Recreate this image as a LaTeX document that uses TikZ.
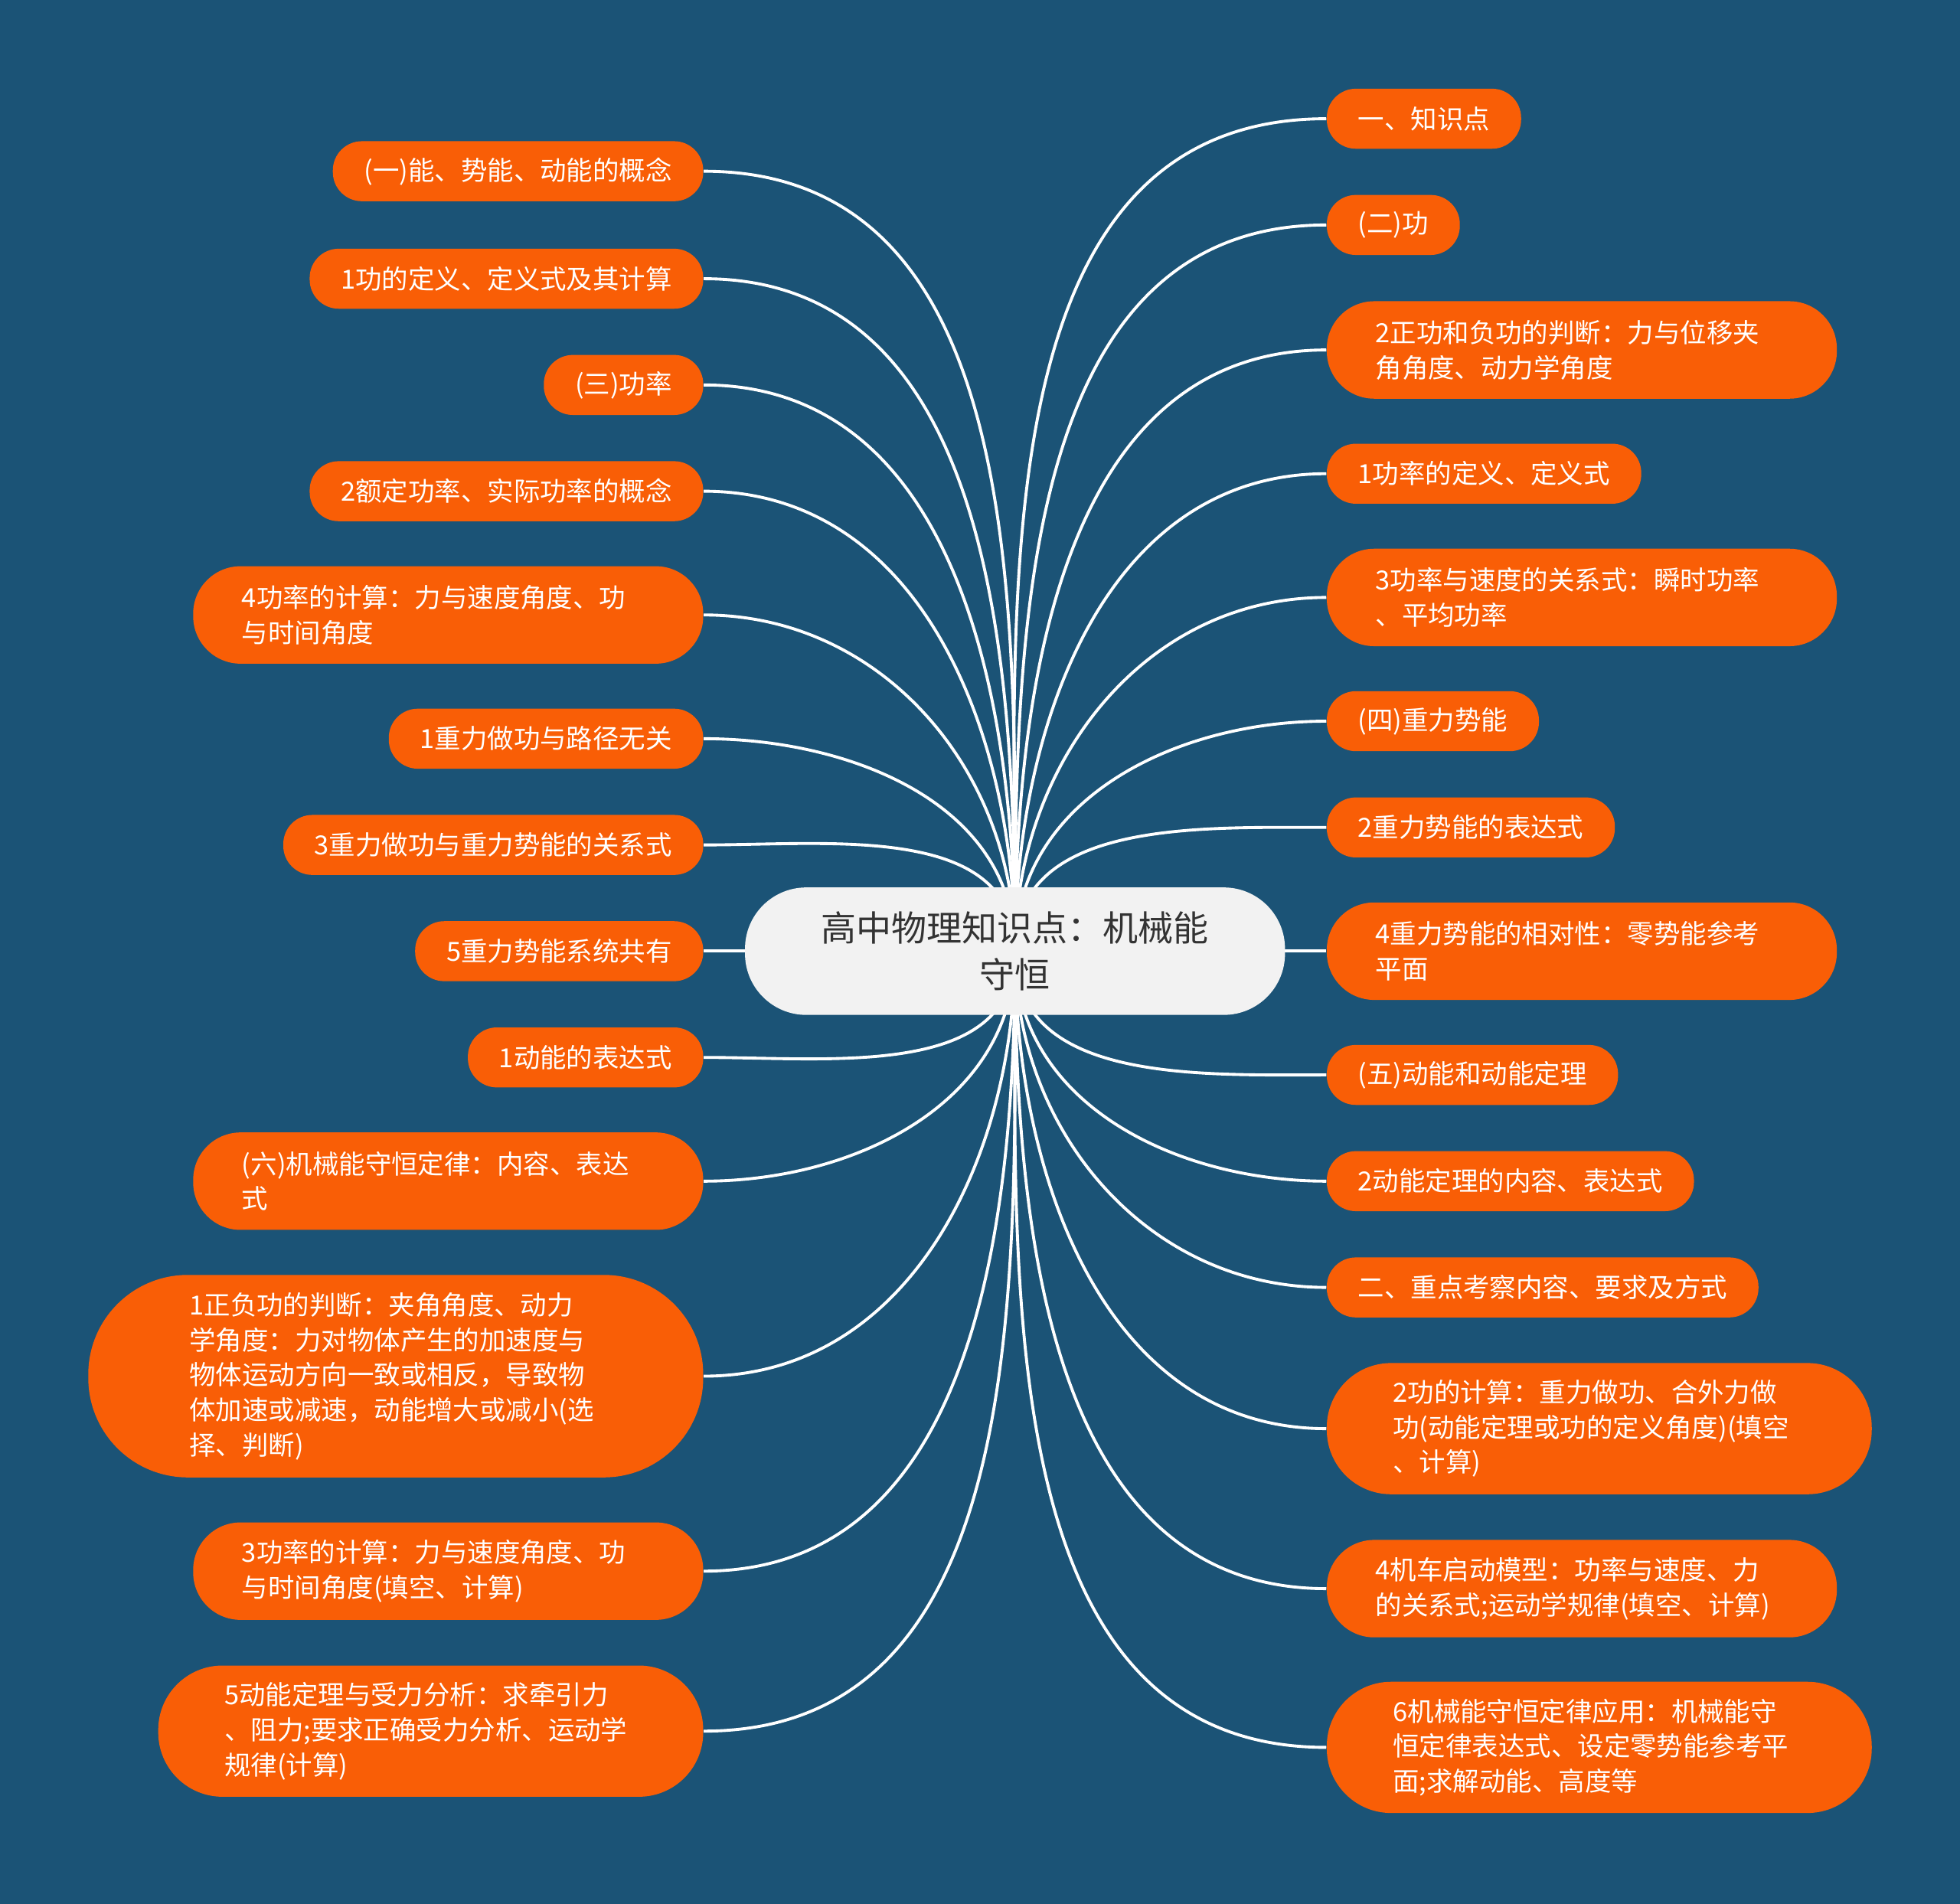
\documentclass[tikz,border=0pt]{standalone}
\usepackage{fontspec}
\setmainfont{Noto Sans CJK SC}
\usetikzlibrary{backgrounds}
\definecolor{bgblue}{HTML}{1B5376}
\definecolor{leaforange}{HTML}{F95E06}
\definecolor{rootgray}{HTML}{F2F2F2}
\definecolor{textdark}{HTML}{333333}
\begin{document}
\begin{tikzpicture}[x=0.016327cm, y=0.016327cm, font=\fontsize{9.8}{13}\selectfont,
  root/.style={fill=rootgray, text=textdark, rounded corners=0.8cm, minimum width=7.053cm, minimum height=1.665cm, align=center, font=\fontsize{13.1}{17.2}\selectfont},
  leaf/.style={fill=leaforange, text=white, rounded corners=0.38cm, minimum height=0.784cm, inner xsep=0.408cm, inner ysep=0pt},
  two/.style={leaf, text width=5.388cm, align=left, minimum height=1.273cm, inner xsep=0.637cm, rounded corners=0.62cm},
  three/.style={leaf, text width=5.388cm, align=left, minimum height=1.714cm, inner xsep=0.865cm, rounded corners=0.84cm},
  five/.style={leaf, text width=5.388cm, align=left, minimum height=2.645cm, inner xsep=1.322cm, rounded corners=1.3cm},
  link/.style={draw=white, line width=1.1pt}]
\node[root] (root) at (812,762) {高中物理知识点：机械能\\守恒};
% left side
\node[leaf, anchor=east] (l1) at (563,1386) {(一)能、势能、动能的概念};
\node[leaf, anchor=east] (l2) at (563,1300) {1功的定义、定义式及其计算};
\node[leaf, anchor=east] (l3) at (563,1215) {(三)功率};
\node[leaf, anchor=east] (l4) at (563,1130) {2额定功率、实际功率的概念};
\node[two, anchor=east] (l5) at (563,1031) {4功率的计算：力与速度角度、功\\与时间角度};
\node[leaf, anchor=east] (l6) at (563,932) {1重力做功与路径无关};
\node[leaf, anchor=east] (l7) at (563,847) {3重力做功与重力势能的关系式};
\node[leaf, anchor=east] (l8) at (563,762) {5重力势能系统共有};
\node[leaf, anchor=east] (l9) at (563,677) {1动能的表达式};
\node[two, anchor=east] (l10) at (563,578) {(六)机械能守恒定律：内容、表达\\式};
\node[five, anchor=east] (l11) at (563,422) {1正负功的判断：夹角角度、动力\\学角度：力对物体产生的加速度与\\物体运动方向一致或相反，导致物\\体加速或减速，动能增大或减小(选\\择、判断)};
\node[two, anchor=east] (l12) at (563,266) {3功率的计算：力与速度角度、功\\与时间角度(填空、计算)};
\node[three, anchor=east] (l13) at (563,138) {5动能定理与受力分析：求牵引力\\、阻力;要求正确受力分析、运动学\\规律(计算)};
% right side
\node[leaf, anchor=west] (r1) at (1061,1428) {一、知识点};
\node[leaf, anchor=west] (r2) at (1061,1343) {(二)功};
\node[two, anchor=west] (r3) at (1061,1243) {2正功和负功的判断：力与位移夹\\角角度、动力学角度};
\node[leaf, anchor=west] (r4) at (1061,1144) {1功率的定义、定义式};
\node[two, anchor=west] (r5) at (1061,1045) {3功率与速度的关系式：瞬时功率\\、平均功率};
\node[leaf, anchor=west] (r6) at (1061,946) {(四)重力势能};
\node[leaf, anchor=west] (r7) at (1061,861) {2重力势能的表达式};
\node[two, anchor=west] (r8) at (1061,762) {4重力势能的相对性：零势能参考\\平面};
\node[leaf, anchor=west] (r9) at (1061,663) {(五)动能和动能定理};
\node[leaf, anchor=west] (r10) at (1061,578) {2动能定理的内容、表达式};
\node[leaf, anchor=west] (r11) at (1061,493) {二、重点考察内容、要求及方式};
\node[three, anchor=west] (r12) at (1061,380) {2功的计算：重力做功、合外力做\\功(动能定理或功的定义角度)(填空\\、计算)};
\node[two, anchor=west] (r13) at (1061,252) {4机车启动模型：功率与速度、力\\的关系式;运动学规律(填空、计算)};
\node[three, anchor=west] (r14) at (1061,125) {6机械能守恒定律应用：机械能守\\恒定律表达式、设定零势能参考平\\面;求解动能、高度等};
\begin{scope}[on background layer]
\fill[bgblue] (0,0) rectangle (1568,1523);
% links
\draw[link] (root.center) to[out=90,in=0] (l1.east); \draw[link] (root.center) to[out=90,in=0] (l2.east); \draw[link] (root.center) to[out=90,in=0] (l3.east); \draw[link] (root.center) to[out=90,in=0] (l4.east);
\draw[link] (root.center) to[out=90,in=0] (l5.east); \draw[link] (root.center) to[out=90,in=0] (l6.east); \draw[link] (root.center) to[out=90,in=0] (l7.east); \draw[link] (root.center) -- (l8.east);
\draw[link] (root.center) to[out=270,in=0] (l9.east); \draw[link] (root.center) to[out=270,in=0] (l10.east); \draw[link] (root.center) to[out=270,in=0] (l11.east); \draw[link] (root.center) to[out=270,in=0] (l12.east); \draw[link] (root.center) to[out=270,in=0] (l13.east);
\draw[link] (root.center) to[out=90,in=180] (r1.west); \draw[link] (root.center) to[out=90,in=180] (r2.west); \draw[link] (root.center) to[out=90,in=180] (r3.west); \draw[link] (root.center) to[out=90,in=180] (r4.west);
\draw[link] (root.center) to[out=90,in=180] (r5.west); \draw[link] (root.center) to[out=90,in=180] (r6.west); \draw[link] (root.center) to[out=90,in=180] (r7.west); \draw[link] (root.center) -- (r8.west);
\draw[link] (root.center) to[out=270,in=180] (r9.west); \draw[link] (root.center) to[out=270,in=180] (r10.west); \draw[link] (root.center) to[out=270,in=180] (r11.west); \draw[link] (root.center) to[out=270,in=180] (r12.west);
\draw[link] (root.center) to[out=270,in=180] (r13.west); \draw[link] (root.center) to[out=270,in=180] (r14.west);
\end{scope}
\end{tikzpicture}
\end{document}
